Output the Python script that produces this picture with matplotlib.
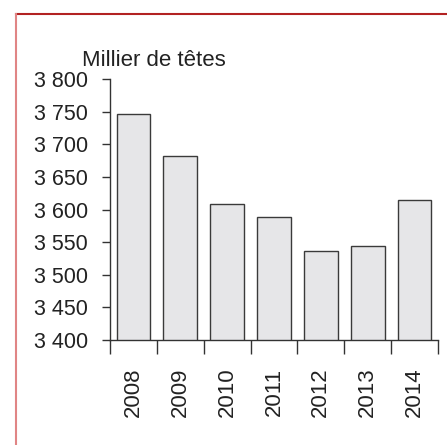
import matplotlib
matplotlib.use("Agg")
import matplotlib.pyplot as plt
from matplotlib.lines import Line2D

years = ["2008", "2009", "2010", "2011", "2012", "2013", "2014"]
heads = [3747, 3682, 3608, 3589, 3536, 3544, 3614]
y_ticks = [3400, 3450, 3500, 3550, 3600, 3650, 3700, 3750, 3800]

plt.rcParams["font.family"] = ["Liberation Sans", "DejaVu Sans"]

fig = plt.figure(figsize=(4.47, 4.45), dpi=100)
ax = fig.add_axes([110 / 447, 1 - 340 / 445, 328 / 447, 261 / 445])

pos = list(range(1, len(years) + 1))
ax.bar(pos, heads, width=0.72, bottom=0, color="#e6e6e8",
       edgecolor="#3a3a3a", linewidth=1.0)
ax.set_ylim(3400, 3800)
ax.set_xlim(0.5, len(years) + 0.5)

ax.set_yticks(y_ticks)
ax.set_yticklabels([f"{v:,}".replace(",", " ") for v in y_ticks])
ax.tick_params(axis="y", length=6, width=1, color="#333333", pad=10,
               labelsize=15.5, labelcolor="#222222")

# boundary ticks on x, labels at centres
ax.set_xticks([p + 0.5 for p in [0] + pos])
ax.set_xticklabels([])
ax.tick_params(axis="x", which="major", length=10, width=1, color="#333333")
ax.set_xticks(pos, minor=True)
ax.set_xticklabels(years, minor=True, rotation=90)
ax.tick_params(axis="x", which="minor", length=0, pad=20,
               labelsize=16, labelcolor="#222222")

for s in ["top", "right"]:
    ax.spines[s].set_visible(False)
for s in ["left", "bottom"]:
    ax.spines[s].set_color("#333333")
    ax.spines[s].set_linewidth(1)

fig.text(82 / 447, 1 - 66 / 445, "Millier de têtes", fontsize=16,
         color="#222222", va="baseline", ha="left")

# frame lines
fig.add_artist(Line2D([15.5 / 447, 1], [1 - 13.5 / 445] * 2,
                      transform=fig.transFigure, color="#b22222", lw=1.5))
fig.add_artist(Line2D([15.5 / 447] * 2, [0, 1 - 13.5 / 445],
                      transform=fig.transFigure, color="#e08585", lw=1.5))

fig.savefig("out.png", dpi=100)
